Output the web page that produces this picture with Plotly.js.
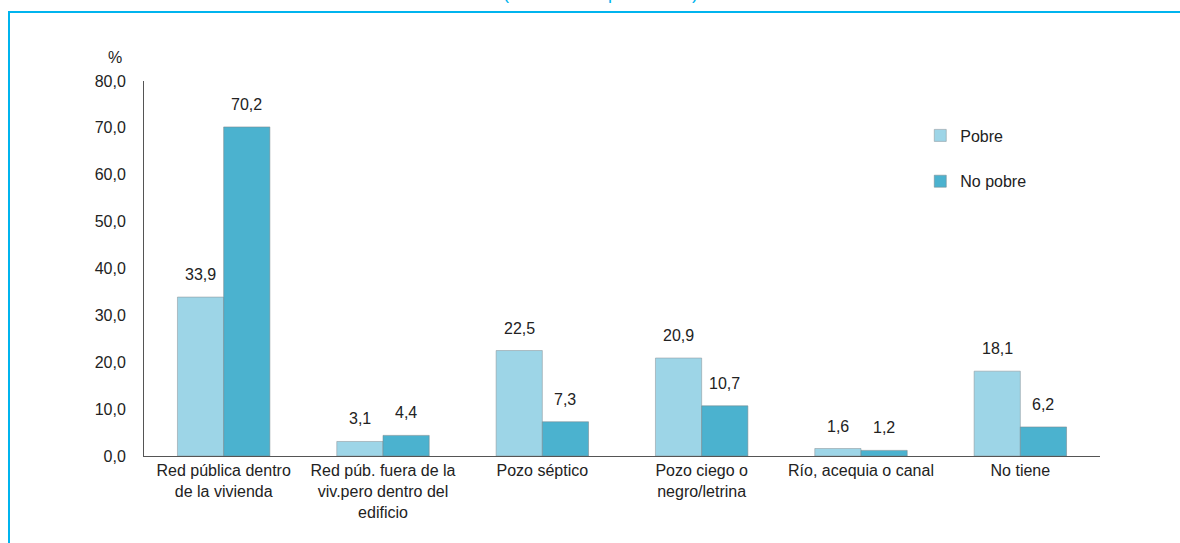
<!DOCTYPE html>
<html>
<head>
<meta charset="utf-8">
<script src="https://cdn.plot.ly/plotly-3.0.1.min.js"></script>
<style>
  html, body { margin: 0; padding: 0; background: #fff; overflow: hidden; }
  #wrap { position: relative; width: 1180px; height: 543px; }
  #chart { position: absolute; left: 0; top: 0; width: 1180px; height: 543px; }
  #frame { position: absolute; left: 8px; top: 11px; width: 1180px; height: 600px;
           border-top: 2px solid #00B4EE; border-left: 2px solid #00B4EE; pointer-events: none; }
</style>
</head>
<body>
<div id="wrap">
  <div id="chart"></div>
  <div id="frame"></div>
</div>
<script>
const categories = [
  "Red pública dentro<br>de la vivienda",
  "Red púb. fuera de la<br>viv.pero dentro del<br>edificio",
  "Pozo séptico",
  "Pozo ciego o<br>negro/letrina",
  "Río, acequia o canal",
  "No tiene"
];
const pobre = [33.9, 3.1, 22.5, 20.9, 1.6, 18.1];
const noPobre = [70.2, 4.4, 7.3, 10.7, 1.2, 6.2];
const seriesNames = ["Pobre", "No pobre"];
const titleText = "(Distribución porcentual)";

const FONT = '"Liberation Sans Narrow", "Arial Narrow", "Liberation Sans", Arial, sans-serif';
const fmt = v => v.toFixed(1).replace('.', ',');

const traces = [
  {
    type: 'bar', name: seriesNames[0], x: categories, y: pobre,
    marker: { color: '#9DD5E7', line: { color: 'rgba(140,150,155,0.55)', width: 1 } },
    legendgroup: 'a', hoverinfo: 'none'
  },
  {
    type: 'bar', name: seriesNames[1], x: categories, y: noPobre,
    marker: { color: '#4BB2CF', line: { color: 'rgba(120,135,140,0.55)', width: 1 } },
    legendgroup: 'b', hoverinfo: 'none'
  }
];

const labelFont = { family: FONT, size: 16, color: '#222' };
const valueLabels = [];
[pobre, noPobre].forEach((arr, si) => {
  arr.forEach((v, i) => {
    valueLabels.push({
      xref: 'x', yref: 'y', x: categories[i], y: v,
      xshift: si === 0 ? -23 : 23, yshift: 12,
      xanchor: 'center', yanchor: 'bottom',
      text: fmt(v), showarrow: false, font: labelFont
    });
  });
});

const layout = {
  width: 1180, height: 543,
  margin: { l: 144, r: 80, t: 81, b: 87, pad: 0 },
  paper_bgcolor: '#fff', plot_bgcolor: '#fff',
  separators: ',.',
  font: { family: FONT, size: 16, color: '#222' },
  barmode: 'group', bargap: 0.42, bargroupgap: 0,
  showlegend: true,
  legend: {
    x: 0.812, y: 0.90, xanchor: 'left', yanchor: 'top',
    traceorder: 'grouped', tracegroupgap: 22,
    itemwidth: 30,
    font: { family: FONT, size: 16, color: '#222' },
    bgcolor: 'rgba(0,0,0,0)'
  },
  xaxis: {
    showline: true, linecolor: '#555', linewidth: 1,
    ticks: '', showgrid: false, zeroline: false,
    tickfont: { family: FONT, size: 16, color: '#222' },
    fixedrange: true
  },
  yaxis: {
    range: [0, 80], dtick: 10, tickformat: '.1f',
    showline: true, linecolor: '#555', linewidth: 1,
    ticks: '', showgrid: false, zeroline: false,
    ticklabelstandoff: 14,
    tickfont: { family: FONT, size: 16, color: '#222' },
    fixedrange: true
  },
  annotations: [
    { xref: 'paper', yref: 'paper', x: -0.021, y: 1.035, xanchor: 'right', yanchor: 'bottom',
      text: '%', showarrow: false, font: { family: FONT, size: 16, color: '#222' } },
    { xref: 'paper', yref: 'paper', x: 0.477, y: 1.203, xanchor: 'center', yanchor: 'bottom',
      text: titleText, showarrow: false, font: { family: FONT, size: 18, color: '#00B4EE' } }
  ].concat(valueLabels)
};

Plotly.newPlot('chart', traces, layout, { displayModeBar: false, staticPlot: true });
</script>
</body>
</html>
